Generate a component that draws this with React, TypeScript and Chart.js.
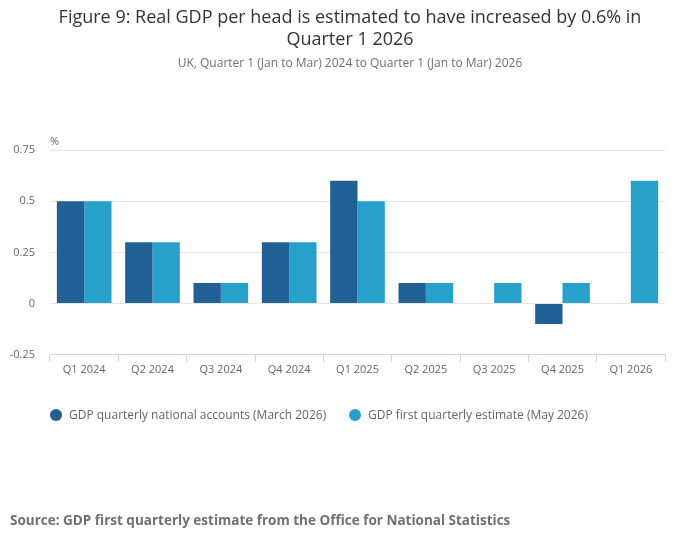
import React, { useEffect, useRef } from "react";
import { Chart, registerables } from "chart.js";
Chart.register(...registerables);

const categories = ["Q1 2024", "Q2 2024", "Q3 2024", "Q4 2024", "Q1 2025", "Q2 2025", "Q3 2025", "Q4 2025", "Q1 2026"];
const nationalAccounts = [0.5, 0.3, 0.1, 0.3, 0.6, 0.1, null, -0.1, null];
const firstEstimate = [0.5, 0.3, 0.1, 0.3, 0.5, 0.1, 0.1, 0.1, 0.6];
const yTicks = [-0.25, 0, 0.25, 0.5, 0.75];
const FONT = "'Open Sans', sans-serif";

const textPlugin = {
  id: "texts",
  afterDraw(chart: any) {
    const ctx = chart.ctx;
    ctx.save();
    ctx.textAlign = "center";
    ctx.textBaseline = "middle";
    ctx.fillStyle = "#333333";
    ctx.font = `18px ${FONT}`;
    ctx.fillText("Figure 9: Real GDP per head is estimated to have increased by 0.6% in", 350, 18);
    ctx.fillText("Quarter 1 2026", 350, 40);
    ctx.fillStyle = "#707070";
    ctx.font = `12px ${FONT}`;
    ctx.fillText("UK, Quarter 1 (Jan to Mar) 2024 to Quarter 1 (Jan to Mar) 2026", 350, 64);
    ctx.textAlign = "left";
    ctx.fillStyle = "#666666";
    ctx.font = `11px ${FONT}`;
    ctx.fillText("%", 50, 142);
    const ds = chart.data.datasets;
    const xs = [56, 355];
    ctx.font = `12px ${FONT}`;
    ds.forEach((d: any, i: number) => {
      ctx.fillStyle = d.backgroundColor;
      ctx.beginPath();
      ctx.arc(xs[i], 415, 6, 0, Math.PI * 2);
      ctx.fill();
      ctx.fillStyle = "#666666";
      ctx.fillText(d.label, xs[i] + 13, 416);
    });
    ctx.fillStyle = "#707070";
    ctx.font = `bold 13.5px ${FONT}`;
    ctx.fillText("Source: GDP first quarterly estimate from the Office for National Statistics", 10, 521);
    ctx.restore();
  },
};

export default function App() {
  const ref = useRef<HTMLCanvasElement>(null);
  useEffect(() => {
    document.body.style.margin = "0";
    const chart = new Chart(ref.current!, {
      type: "bar",
      data: {
        labels: categories,
        datasets: [
          { label: "GDP quarterly national accounts (March 2026)", data: nationalAccounts as any, backgroundColor: "#206095", categoryPercentage: 0.8, barPercentage: 1 },
          { label: "GDP first quarterly estimate (May 2026)", data: firstEstimate, backgroundColor: "#27a0cc", categoryPercentage: 0.8, barPercentage: 1 },
        ],
      },
      options: {
        animation: false,
        responsive: false,
        layout: { padding: { top: 150, right: 35, left: 0, bottom: 172 } },
        plugins: {
          tooltip: { enabled: false },
          legend: { display: false },
        },
        scales: {
          x: {
            grid: { display: true, drawOnChartArea: false, offset: true, tickLength: 7, color: "#ccd6eb" },
            border: { color: "#ccd6eb" },
            ticks: { color: "#666666", font: { family: FONT, size: 11 }, padding: 1 },
          },
          y: {
            min: -0.25,
            max: 0.75,
            afterBuildTicks: (s: any) => { s.ticks = yTicks.map((v) => ({ value: v })); },
            afterFit: (s: any) => { s.width = 50; },
            grid: { color: "#e6e6e6", drawTicks: false },
            border: { display: false },
            ticks: { color: "#666666", font: { family: FONT, size: 11 }, padding: 15, callback: (v: any) => String(v) },
          },
        },
      },
      plugins: [textPlugin],
    });
    return () => chart.destroy();
  }, []);
  return <canvas ref={ref} width={700} height={549} style={{ display: "block" }} />;
}
